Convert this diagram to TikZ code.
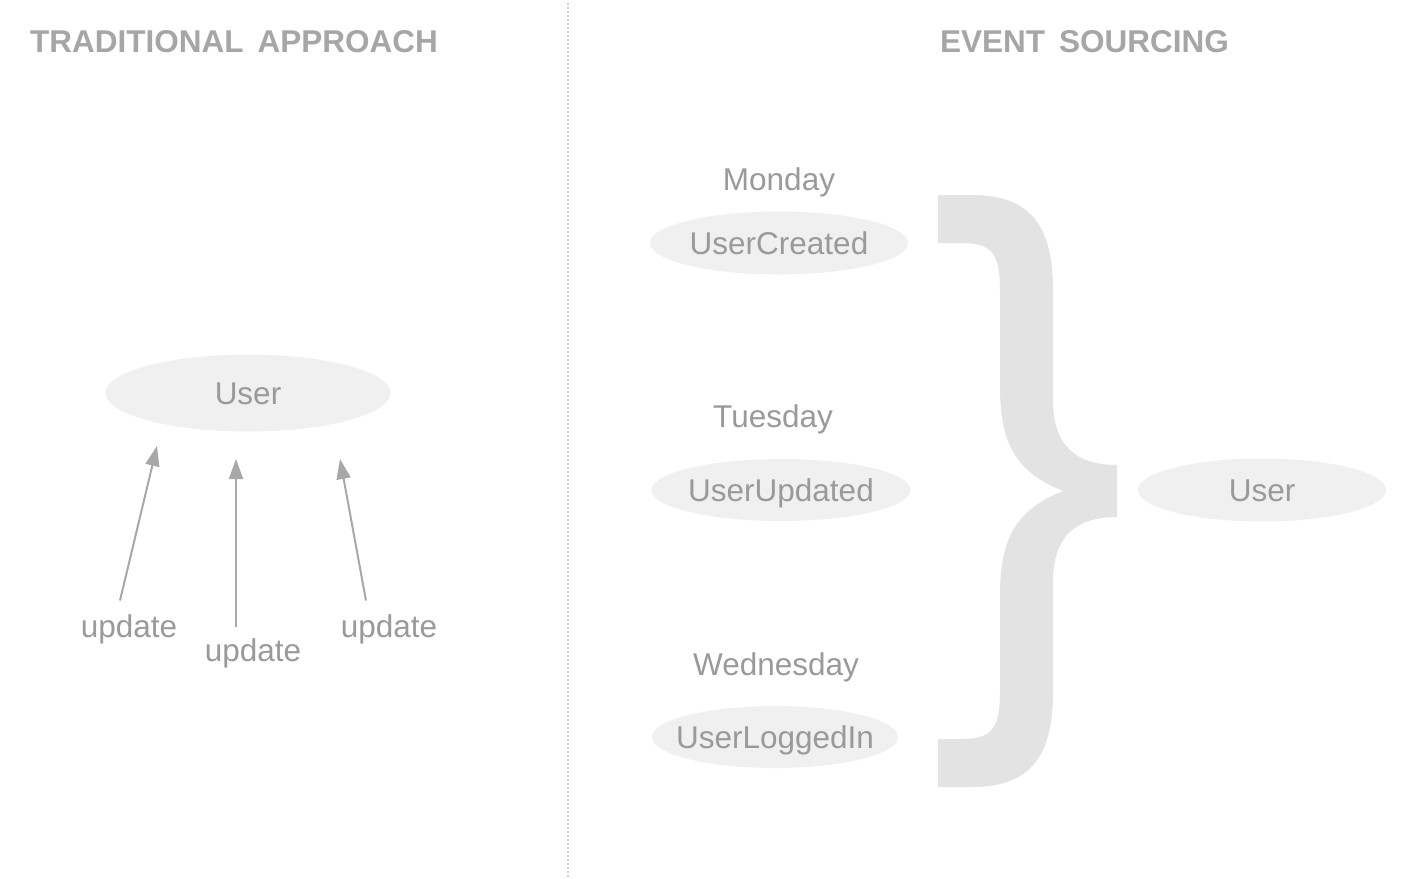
\documentclass[tikz,border=0pt]{standalone}
\usepackage{fontspec}
\setmainfont{Liberation Sans}
\usetikzlibrary{shapes.geometric,arrows.meta}
\definecolor{txtgray}{HTML}{9A9A9A}
\definecolor{headgray}{HTML}{A6A6A6}
\definecolor{ovalfill}{HTML}{F0F0F0}
\definecolor{bracegray}{HTML}{E3E3E3}
\definecolor{arrowgray}{HTML}{A8A8A8}
\definecolor{rulegray}{HTML}{D0D0D0}

\begin{document}
\begin{tikzpicture}[x=1pt, y=-1pt, font=\fontsize{31.5}{36}\selectfont, text=txtgray,
  heading/.style={font=\fontsize{31.5}{36}\selectfont\bfseries, text=headgray, anchor=west, inner sep=0pt, text height=22.5pt, text depth=0pt},
  oval/.style={ellipse, fill=ovalfill, inner xsep=-25pt, inner ysep=0pt, text height=22.5pt, text depth=0pt},
  lbl/.style={inner sep=0pt, text height=22.5pt, text depth=0pt},
  upd/.style={-{Triangle[length=20pt,width=14pt]}, draw=arrowgray, line width=2pt}]
  \fill[white] (0,0) rectangle (1404,878);
  \draw[rulegray, line width=1.5pt, dash pattern=on 2pt off 2pt] (568,3) -- (568,878);

  % left half
  \node[heading] (lefthead) at (30,41) {TRADITIONAL\hspace{14pt}APPROACH};
  \node[oval, minimum width=285pt, minimum height=77pt] (olduser) at (248,393) {User};
  \node[lbl] (upd1) at (129,626) {update};
  \node[lbl] (upd2) at (253,650) {update};
  \node[lbl] (upd3) at (389,626) {update};
  \coordinate (tip1) at (157,446);
  \coordinate (tip2) at (236,459);
  \coordinate (tip3) at (340,459);
  \draw[upd] ([xshift=-9pt,yshift=14pt]upd1.north) -- (tip1);
  \draw[upd] ([xshift=-17pt,yshift=12pt]upd2.north) -- (tip2);
  \draw[upd] ([xshift=-23pt,yshift=14pt]upd3.north) -- (tip3);

  % right half
  \node[heading] (righthead) at (940,41) {EVENT\hspace{14pt}SOURCING};
  \node[lbl] (mon) at (779,179) {Monday};
  \node[oval, minimum width=258pt, minimum height=63pt] (created) at (779,243) {UserCreated};
  \node[lbl] (tue) at (773,416) {Tuesday};
  \node[oval, minimum width=259pt, minimum height=62pt] (updated) at (781,490) {UserUpdated};
  \node[lbl] (wed) at (776,664) {Wednesday};
  \node[oval, minimum width=246pt, minimum height=62pt] (loggedin) at (775,737) {UserLoggedIn};
  \node[oval, minimum width=248pt, minimum height=63pt] (newuser) at (1262,490) {User};

  % the big brace
  \fill[bracegray] (938,195) -- (972,195)
    .. controls (1032,195) and (1053,228) .. (1053,290) -- (1053,400)
    .. controls (1053,446) and (1076,465) .. (1117,465) -- (1117,517)
    .. controls (1076,517) and (1053,536) .. (1053,582) -- (1053,692)
    .. controls (1053,754) and (1032,787) .. (972,787) -- (938,787) -- (938,739) -- (962,739)
    .. controls (994,739) and (1000,726) .. (1000,690) -- (1000,596)
    .. controls (1000,538) and (1016,510) .. (1063,491)
    .. controls (1016,472) and (1000,444) .. (1000,386) -- (1000,292)
    .. controls (1000,256) and (994,243) .. (962,243) -- (938,243) -- cycle;
\end{tikzpicture}
\end{document}
